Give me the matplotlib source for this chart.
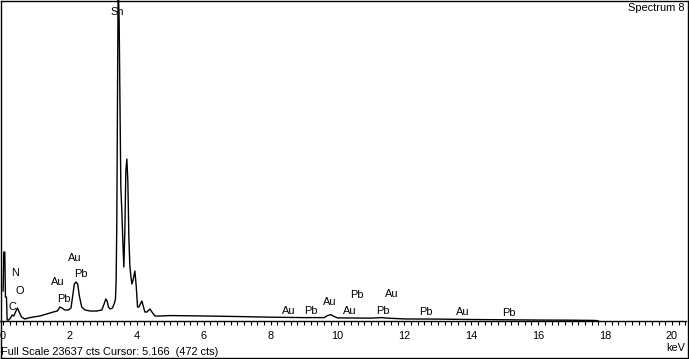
import matplotlib
matplotlib.use("Agg")
import matplotlib.pyplot as plt
from matplotlib.lines import Line2D
from matplotlib.ticker import MultipleLocator

# Spectrum data (keV, counts)
energy_kev = [0.00, 0.02, 0.05, 0.07, 0.10, 0.12, 0.17, 0.22, 0.27, 0.32, 0.37, 0.43, 0.48,
              0.55, 0.65, 0.75, 0.90, 1.10, 1.30, 1.50, 1.62, 1.70, 1.76, 1.85, 1.95, 2.03,
              2.08, 2.13, 2.18, 2.23, 2.28, 2.35, 2.45, 2.60, 2.80, 2.95, 3.02, 3.07, 3.11,
              3.15, 3.20, 3.27, 3.33, 3.36, 3.38, 3.40, 3.42, 3.44, 3.47, 3.50, 3.52, 3.55,
              3.58, 3.61, 3.64, 3.67, 3.70, 3.73, 3.76, 3.79, 3.82, 3.85, 3.88, 3.94, 3.98,
              4.02, 4.06, 4.12, 4.15, 4.19, 4.24, 4.30, 4.36, 4.39, 4.45, 4.54, 4.70, 5.00,
              6.00, 7.00, 8.00, 9.00, 9.60, 9.70, 9.80, 9.90, 10.00, 11.00, 11.30, 11.50,
              12.00, 13.00, 14.00, 15.00, 16.00, 17.00, 17.70, 17.80]
counts = [2208, 5078, 5078, 1766, 1766, 74, 74, 221, 442, 368, 662, 957, 662,
          294, 147, 221, 294, 368, 515, 662, 736, 1030, 957, 810, 810, 957,
          1840, 2723, 2870, 2723, 1840, 1030, 810, 736, 736, 810, 1251, 1619, 1472,
          1030, 883, 957, 1325, 1619, 2944, 7360, 16192, 25024, 22080, 14720, 9862, 8096,
          5888, 3974, 6624, 11040, 11923, 10304, 6182, 4048, 3312, 2723, 2944, 3680, 2576,
          1030, 1030, 1325, 1472, 1104, 662, 662, 810, 883, 662, 368, 368, 400,
          370, 330, 280, 250, 250, 400, 470, 330, 230, 210, 250, 210,
          150, 140, 110, 90, 70, 60, 40, 0]

# Peak labels
label_text = ["C", "N", "O", "Au", "Pb", "Au", "Pb", "Sn",
              "Au", "Pb", "Au", "Au", "Pb", "Pb", "Au", "Pb", "Au", "Pb"]
label_kev = [0.27, 0.36, 0.51, 1.64, 1.82, 2.15, 2.33, 3.41,
             8.55, 9.21, 9.78, 10.37, 10.58, 11.36, 11.63, 12.65, 13.75, 15.13]
label_cts = [1030, 3530, 2210, 2870, 1620, 4640, 3460, 22740,
             740, 740, 1400, 740, 1910, 740, 1990, 660, 660, 590]

full_scale = 23637
x_min, x_max = -0.093, 20.42
tick_labels = ["0", "2", "4", "6", "8", "10", "12", "14", "16", "18", "20"]

W, H = 689, 359
fig = plt.figure(figsize=(W / 100, H / 100), dpi=100)
fig.patch.set_facecolor("white")
font = "Liberation Sans"
fs = 7.9

ax = fig.add_axes([0 / W, (H - 321) / H, 686 / W, 321 / H])
ax.plot(energy_kev, counts, color="black", lw=1.0, clip_on=True)
ax.set_xlim(x_min, x_max)
ax.set_ylim(0, full_scale)
for s in ["left", "right", "top"]:
    ax.spines[s].set_visible(False)
ax.spines["bottom"].set_linewidth(1.0)
ax.set_yticks([])
ax.xaxis.set_major_locator(MultipleLocator(2))
ax.xaxis.set_minor_locator(MultipleLocator(0.2))
ax.set_xticks(range(0, 21, 2))
ax.set_xticklabels(tick_labels, fontfamily=font, fontsize=fs)
ax.tick_params(axis="x", which="both", direction="out", length=3, width=0.8, pad=4)
ax.patch.set_alpha(0)

for t, xk, yc in zip(label_text, label_kev, label_cts):
    ax.text(xk, yc, t, ha="center", va="center", fontfamily=font, fontsize=fs,
            clip_on=False)

# outer frame
def px_line(x0, y0, x1, y1):
    fig.add_artist(Line2D([x0 / W, x1 / W], [1 - y0 / H, 1 - y1 / H],
                          transform=fig.transFigure, color="black", lw=1.0))

px_line(0.5, 0.5, 687.5, 0.5)
px_line(687.5, 0.5, 687.5, 357.5)
px_line(0.5, 357.5, 687.5, 357.5)
px_line(0.5, 0.5, 0.5, 357.5)

fig.text(685 / W, 1 - 8 / H, "Spectrum 8", ha="right", va="center",
         fontfamily=font, fontsize=fs)
fig.text(685 / W, 1 - 348 / H, "keV", ha="right", va="center",
         fontfamily=font, fontsize=fs)
fig.text(1 / W, 1 - 352 / H, "Full Scale 23637 cts Cursor: 5.166  (472 cts)",
         ha="left", va="center", fontfamily=font, fontsize=fs)

fig.savefig("out.png", dpi=100)
